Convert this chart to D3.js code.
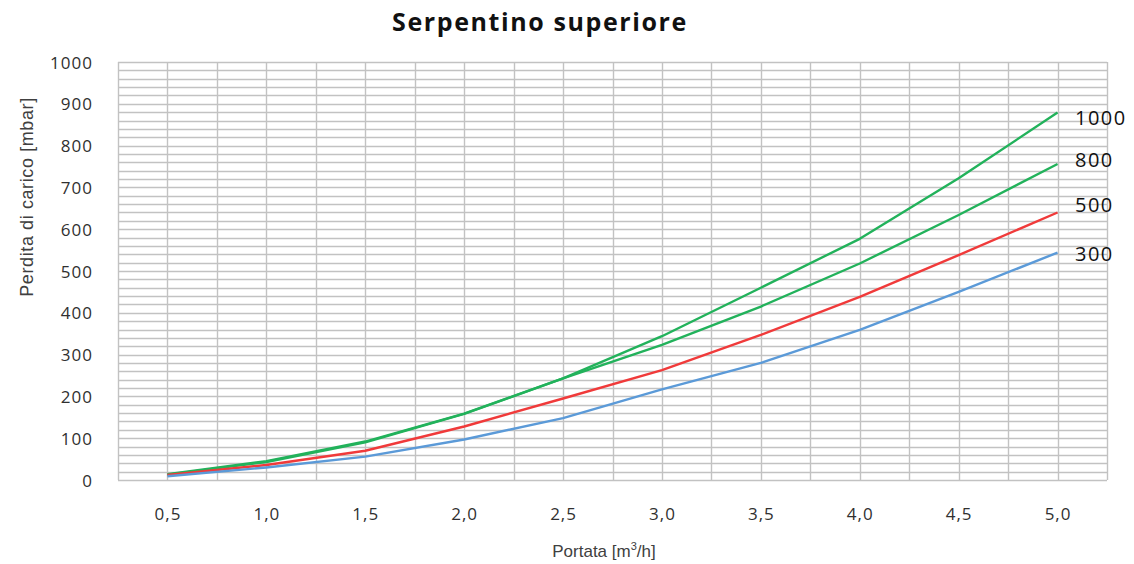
<!DOCTYPE html>
<html>
<head>
<meta charset="utf-8">
<script src="https://cdn.jsdelivr.net/npm/d3@7"></script>
<style>
  html, body { margin: 0; padding: 0; background: #fff; }
  svg { display: block; }
</style>
</head>
<body>
<svg id="chart" width="1134" height="564"></svg>
<script>
// ---- data ----
const portata = [0.5, 1.0, 1.5, 2.0, 2.5, 3.0, 3.5, 4.0, 4.5, 5.0];
const s1000 = [14, 45, 92, 159, 243, 344, 460, 577, 722, 879];
const s800  = [13, 43, 90, 158, 243, 323, 415, 518, 634, 756];
const s500  = [12, 36, 70, 128, 195, 263, 347, 438, 538, 640];
const s300  = [9, 30, 56, 97, 148, 217, 280, 359, 450, 544];
const seriesNames = ["1000", "800", "500", "300"];
const xTicks = [0.5, 1.0, 1.5, 2.0, 2.5, 3.0, 3.5, 4.0, 4.5, 5.0];
const yTicks = [0, 100, 200, 300, 400, 500, 600, 700, 800, 900, 1000];
const title = "Serpentino superiore";
const xTitle = "Portata [m³/h]";
const yTitle = "Perdita di carico [mbar]";

const series = [
  { name: seriesNames[0], values: s1000, color: "#22b25b" },
  { name: seriesNames[1], values: s800,  color: "#22b25b" },
  { name: seriesNames[2], values: s500,  color: "#f03a3a" },
  { name: seriesNames[3], values: s300,  color: "#5b9ad8" }
];

const svg = d3.select("#chart");
const L = 118, R = 1107, T = 62, B = 480;
const x = d3.scaleLinear().domain([0.25, 5.25]).range([L, R]);
const y = d3.scaleLinear().domain([0, 1000]).range([B, T]);

const grid = svg.append("g");
// horizontal minor grid every 20
grid.selectAll("line.h").data(d3.range(0, 1001, 20)).join("line")
  .attr("x1", L).attr("x2", R)
  .attr("y1", d => Math.round(y(d)) + 0.5).attr("y2", d => Math.round(y(d)) + 0.5)
  .attr("stroke", "#c2c2c2").attr("stroke-width", 1.4);
// vertical grid every 0.25
grid.selectAll("line.v").data(d3.range(0, 21).map(i => 0.25 + i * 0.25)).join("line")
  .attr("y1", T).attr("y2", B)
  .attr("x1", d => Math.round(x(d)) + 0.5).attr("x2", d => Math.round(x(d)) + 0.5)
  .attr("stroke", "#c2c2c2").attr("stroke-width", 1.4);

// axes (labels only)
const yAxis = d3.axisLeft(y).tickValues(yTicks).tickSize(0).tickPadding(0).tickFormat(d3.format("d"));
const gy = svg.append("g").attr("transform", `translate(${L - 25},0)`).call(yAxis);
gy.select(".domain").remove();
gy.selectAll("text").attr("font-family", "'Open Sans', sans-serif").attr("font-size", 17)
  .attr("letter-spacing", 1).attr("fill", "#303030").attr("dy", "0.36em");

const fmt = d => d.toFixed(1).replace(".", ",");
const xAxis = d3.axisBottom(x).tickValues(xTicks).tickSize(0).tickPadding(0).tickFormat(fmt);
const gx = svg.append("g").attr("transform", `translate(0,${B + 27})`).call(xAxis);
gx.select(".domain").remove();
gx.selectAll("text").attr("font-family", "'Open Sans', sans-serif").attr("font-size", 17)
  .attr("letter-spacing", 1).attr("fill", "#303030").attr("dy", "0.75em");

// lines
const line = d3.line().x((d, i) => x(portata[i])).y(d => y(d));
svg.append("g").selectAll("path").data(series).join("path")
  .attr("d", d => line(d.values))
  .attr("fill", "none")
  .attr("stroke", d => d.color)
  .attr("stroke-width", 2.4)
  .attr("stroke-linejoin", "round");

// series labels
svg.append("g").selectAll("text").data(series).join("text")
  .attr("x", 1075)
  .attr("y", d => y(d.values[d.values.length - 1]) + [5, -4, -8, 1][seriesNames.indexOf(d.name)])
  .attr("font-family", "'Open Sans', sans-serif")
  .attr("font-size", 20)
  .attr("letter-spacing", 1.5)
  .attr("fill", "#111")
  .attr("dy", "0.36em")
  .text(d => d.name);

// title
svg.append("text").attr("x", 540).attr("y", 31).attr("text-anchor", "middle")
  .attr("font-family", "'Open Sans', sans-serif").attr("font-weight", "bold")
  .attr("font-size", 25).attr("letter-spacing", 1.6).attr("fill", "#111").text(title);

// x title
const xt = svg.append("text").attr("x", 604).attr("y", 557).attr("text-anchor", "middle")
  .attr("font-family", "'Liberation Sans', Arial, sans-serif").attr("font-size", 17).attr("fill", "#404040");
xt.append("tspan").text("Portata [m");
xt.append("tspan").attr("font-size", 11).attr("dy", -7).text("3");
xt.append("tspan").attr("dy", 7).text("/h]");

// y title
svg.append("text").attr("transform", "translate(33,197) rotate(-90)").attr("text-anchor", "middle")
  .attr("font-family", "'Liberation Sans', Arial, sans-serif").attr("font-size", 18)
  .attr("letter-spacing", 0.6).attr("fill", "#404040")
  .text(yTitle);
</script>
</body>
</html>
